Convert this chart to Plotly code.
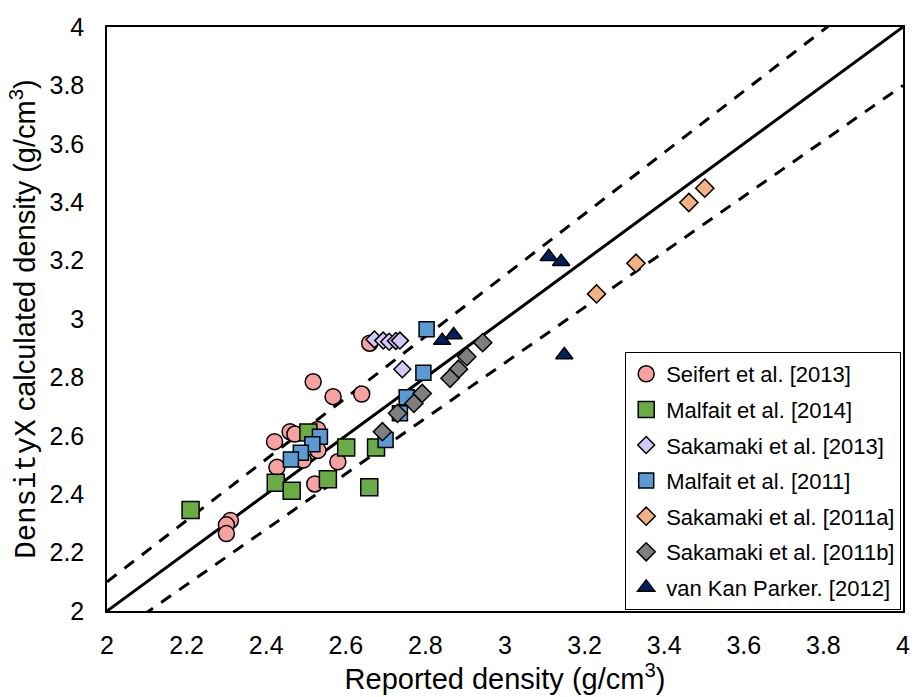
import plotly.graph_objects as go

# ---- data (reported density, DensityX calculated density) ----
seifert_x = [2.31, 2.30, 2.30, 2.518, 2.568, 2.64, 2.46, 2.472, 2.529, 2.421, 2.427, 2.53, 2.493, 2.58, 2.522, 2.66]
seifert_y = [2.31, 2.295, 2.265, 2.785, 2.734, 2.743, 2.614, 2.606, 2.622, 2.58, 2.492, 2.55, 2.517, 2.511, 2.435, 2.917]

malfait14_x = [2.21, 2.506, 2.601, 2.676, 2.424, 2.464, 2.555, 2.659]
malfait14_y = [2.346, 2.611, 2.56, 2.56, 2.439, 2.412, 2.451, 2.424]

sakamaki13_x = [2.672, 2.694, 2.709, 2.726, 2.736, 2.742]
sakamaki13_y = [2.930, 2.926, 2.922, 2.925, 2.926, 2.828]

malfait11_x = [2.535, 2.516, 2.487, 2.462, 2.70, 2.803, 2.795, 2.753, 2.736]
malfait11_y = [2.597, 2.571, 2.542, 2.519, 2.586, 2.965, 2.816, 2.732, 2.677]

sakamaki11a_x = [3.502, 3.462, 3.329, 3.23]
sakamaki11a_y = [3.448, 3.399, 3.191, 3.086]

sakamaki11b_x = [2.944, 2.904, 2.883, 2.862, 2.792, 2.771, 2.73, 2.692]
sakamaki11b_y = [2.919, 2.871, 2.828, 2.797, 2.745, 2.711, 2.677, 2.614]

vankan_x = [2.842, 2.871, 3.11, 3.141, 3.149]
vankan_y = [2.926, 2.945, 3.213, 3.196, 2.877]

# reference lines: 1:1 and +/-5 %
line_x = [2.0, 4.0]
one_to_one = [2.0, 4.0]
upper_y = [2.0 * 1.05, 4.0 * 1.05]
lower_y = [2.0 * 0.95, 4.0 * 0.95]

tick_vals = [2, 2.2, 2.4, 2.6, 2.8, 3, 3.2, 3.4, 3.6, 3.8, 4]
tick_text = ["2", "2.2", "2.4", "2.6", "2.8", "3", "3.2", "3.4", "3.6", "3.8", "4"]

fig = go.Figure()

fig.add_trace(go.Scatter(x=line_x, y=one_to_one, mode="lines",
                         line=dict(color="black", width=3), showlegend=False, hoverinfo="skip"))
fig.add_trace(go.Scatter(x=line_x, y=upper_y, mode="lines",
                         line=dict(color="black", width=3, dash="12px,10px"), showlegend=False, hoverinfo="skip"))
fig.add_trace(go.Scatter(x=line_x, y=lower_y, mode="lines",
                         line=dict(color="black", width=3, dash="12px,10px"), showlegend=False, hoverinfo="skip"))

series = [
    ("Seifert et al. [2013]", seifert_x, seifert_y, "circle", "#F7A1A1", 16),
    ("Malfait et al. [2014]", malfait14_x, malfait14_y, "square", "#6AAB45", 17),
    ("Sakamaki et al. [2013]", sakamaki13_x, sakamaki13_y, "diamond", "#D5C8F8", 13),
    ("Malfait et al. [2011]", malfait11_x, malfait11_y, "square", "#5B9BD5", 15),
    ("Sakamaki et al. [2011a]", sakamaki11a_x, sakamaki11a_y, "diamond", "#F4B183", 14),
    ("Sakamaki et al. [2011b]", sakamaki11b_x, sakamaki11b_y, "diamond", "#7F7F7F", 14),
    ("van Kan Parker. [2012]", vankan_x, vankan_y, "triangle-up", "#002060", 15),
]
for i, (name, xs, ys, sym, col, sz) in enumerate(series):
    fig.add_trace(go.Scatter(
        x=xs, y=ys, mode="markers", name=name, legendgroup=f"g{i}",
        marker=dict(symbol=sym, color=col, size=sz, line=dict(color="black", width=1.5)),
    ))

axis_common = dict(
    range=[2, 4], tickvals=tick_vals, ticktext=tick_text,
    showgrid=False, zeroline=False, showline=True, linecolor="black", linewidth=1.5,
    mirror=True, ticks="", tickfont=dict(family="Liberation Sans, Arial", size=25, color="black"),
)

fig.update_layout(
    width=921, height=697,
    margin=dict(l=107, r=11, t=27, b=86),
    plot_bgcolor="white", paper_bgcolor="white",
    font=dict(family="Liberation Sans, Arial", color="black"),
    xaxis=dict(**axis_common, ticklabelstandoff=11,
               title=dict(text="Reported density (g/cm<sup>3</sup>)",
                          font=dict(size=29, family="Liberation Sans, Arial"), standoff=2)),
    yaxis=dict(**axis_common, ticklabelstandoff=16,
               title=dict(text="<span style='font-family:Liberation Mono, Courier New, monospace'>DensityX</span> calculated density (g/cm<sup>3</sup>)",
                          font=dict(size=29, family="Liberation Sans, Arial"), standoff=5)),
    legend=dict(x=0.651, y=0.4435, xanchor="left", yanchor="top",
                bordercolor="black", borderwidth=1, bgcolor="white",
                font=dict(size=22, family="Liberation Sans, Arial"),
                itemsizing="trace", tracegroupgap=4),
)

fig.write_html("out.html")
